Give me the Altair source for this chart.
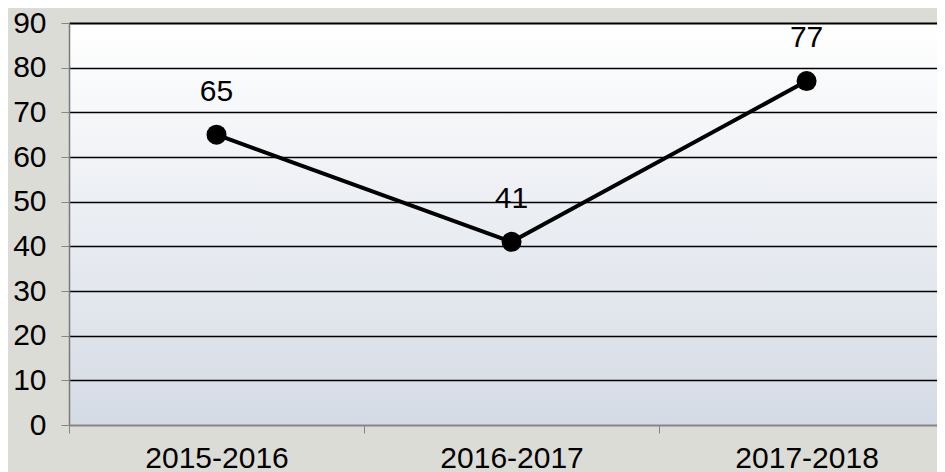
import altair as alt
import pandas as pd

# ---- data ----
seasons = ["2015-2016", "2016-2017", "2017-2018"]
values = [65, 41, 77]
y_ticks = [0, 10, 20, 30, 40, 50, 60, 70, 80, 90]
x_domain = [-0.5, 2.442]   # category bands; last band runs past the right edge
y_domain = [0, 90]
x_tick_values = [-0.5, 0, 0.5, 1, 1.5, 2]

df = pd.DataFrame({"idx": list(range(len(seasons))), "season": seasons, "value": values})
bg = pd.DataFrame({"idx": [x_domain[0]], "idx2": [x_domain[1]],
                   "value": [y_domain[0]], "value2": [y_domain[1]]})

FONT = "Liberation Sans"
FS = 30
label_list = "[" + ",".join(f"'{s}'" for s in seasons) + "]"
label_expr = f"datum.value % 1 === 0 ? {label_list}[datum.value] : ''"

x_axis = alt.Axis(
    title=None, values=x_tick_values, labelExpr=label_expr, grid=False,
    labelFont=FONT, labelFontSize=FS, labelColor="black", labelPadding=10,
    labelFlush=False, labelOverlap=False,
    tickSize=8, tickColor="#868686", tickWidth=1,
    tickOpacity=alt.condition("datum.value % 1 === 0", alt.value(0), alt.value(1)),
    domainColor="#868686", domainWidth=2, zindex=1,
)
y_axis = alt.Axis(
    title=None, values=y_ticks, grid=True, gridColor="black",
    gridWidth=alt.condition("datum.value === 90", alt.value(2.2), alt.value(1.4)),
    gridOpacity=alt.condition("datum.value === 0", alt.value(0), alt.value(1)),
    labelFont=FONT, labelFontSize=FS, labelColor="black", labelPadding=15,
    tickSize=8, tickColor="#868686", tickWidth=1,
    domainColor="#7a7a7a", domainWidth=1.5, zindex=1,
)

x_scale = alt.Scale(domain=x_domain, nice=False, zero=False)
y_scale = alt.Scale(domain=y_domain, nice=False)

x_enc = alt.X("idx:Q", scale=x_scale, axis=x_axis)
y_enc = alt.Y("value:Q", scale=y_scale, axis=y_axis)

gradient = alt.LinearGradient(
    gradient="linear",
    stops=[alt.GradientStop(color="#ffffff", offset=0),
           alt.GradientStop(color="#d5dbe5", offset=1)],
    x1=0, x2=0, y1=0, y2=1,
)

background = alt.Chart(bg).mark_rect(color=gradient).encode(
    x=x_enc, x2="idx2:Q", y=y_enc, y2="value2:Q"
)

line = alt.Chart(df).mark_line(color="black", strokeWidth=4).encode(x=x_enc, y=y_enc)
points = alt.Chart(df).mark_point(filled=True, color="black", size=400, opacity=1).encode(
    x=x_enc, y=y_enc
)
labels = alt.Chart(df).mark_text(
    font=FONT, fontSize=FS, color="black", baseline="middle", dy=-43
).encode(x=x_enc, y=y_enc, text="value:Q")

chart = alt.layer(background, line, points, labels).properties(
    width=868, height=402,
    autosize=alt.AutoSizeParams(type="none"),
    padding={"left": 61, "top": 15, "right": 0, "bottom": 47},
    background="#dcdcd7",
).configure_view(stroke=None)

chart.save("out.html", embed_options={"renderer": "svg", "actions": False})
